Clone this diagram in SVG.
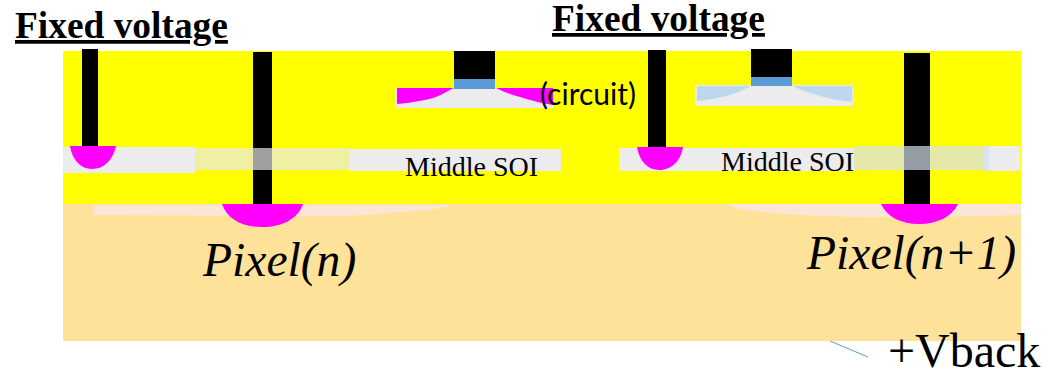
<svg xmlns="http://www.w3.org/2000/svg" width="1042" height="372" viewBox="0 0 1042 372">
<style>
.b{fill:#000}.m{fill:#f0f}.g{fill:#ececec}.bl{fill:#5b9bd5}.lb{fill:#bdd7ee}
text{font-family:"Liberation Serif","Times New Roman",serif;fill:#000}
.h{font-size:37.4px;font-weight:bold;text-decoration:underline}
.s{font-size:28px}
.p{font-size:47.6px;font-style:italic}
</style>
<rect id="substrate" x="63" y="204" width="958" height="137" fill="#ffe299"/>
<rect id="oxide" x="63" y="51" width="958" height="153" fill="#ff0"/>
<g id="pixel-n-implant">
<path d="M94 205H453Q440 210 400 212Q370 215 340 216L94 215Z" fill="#fbe5d6"/>
<path class="m" d="M222 204H303C298 219 282 227 262 227C242 227 227 219 222 204Z"/>
</g>
<g id="pixel-n1-implant">
<path d="M727 204H1021V215Q950 218 880 217Q800 217 745 210Q735 209 727 204Z" fill="#fbe5d6"/>
<path class="m" d="M881 204H958C952 217 937 224 919 224C901 224 887 217 881 204Z"/>
</g>
<g id="left-soi">
<rect class="g" x="63" y="147" width="132" height="26"/>
<rect x="195" y="148" width="156" height="22" fill="#f0f0a4"/>
<rect class="g" x="349" y="149" width="212" height="22"/>
</g>
<g id="right-soi">
<rect class="g" x="619" y="148" width="236" height="23"/>
<rect x="854" y="146" width="130" height="24" fill="#e4e8a8"/>
<rect x="984" y="146" width="5" height="25" fill="#dae3f3"/>
<rect class="g" x="989" y="146" width="31" height="25"/>
</g>
<g id="contact-left"><rect class="b" x="82" y="49" width="16" height="97"/><path class="m" d="M70 146H116C113 160 104 169 92 169C81 169 72 160 70 146Z"/></g>
<g id="contact-pixel-n"><rect class="b" x="253" y="52" width="19" height="152"/><rect x="253" y="148" width="19" height="22" fill="#a0a0a0"/></g>
<g id="contact-right"><rect class="b" x="648" y="50" width="18" height="97"/><path class="m" d="M637 147H683C681 161 671 170 659 170C648 170 639 161 637 147Z"/></g>
<g id="contact-pixel-n1"><rect class="b" x="904" y="53" width="26" height="151"/><rect x="904" y="146" width="26" height="24" fill="#969ca4"/></g>
<g id="circuit-left">
<rect class="g" x="396" y="88" width="157" height="20"/>
<path class="m" d="M397 88H454C445 92 440 97 425 100Q410 103 397 104Z"/>
<path class="m" d="M496 88H553V105Q535 102 520 97Q505 93 496 88Z"/>
<rect class="b" x="454" y="51" width="41" height="28"/>
<rect class="bl" x="454" y="79" width="41" height="10"/>
</g>
<g id="circuit-right">
<rect class="g" x="695" y="85" width="158" height="21"/>
<path class="lb" d="M697 86H751C742 90 737 94 722 97Q708 100 697 101Z"/>
<path class="lb" d="M793 86H852V102Q832 100 817 95Q802 91 793 86Z"/>
<rect class="b" x="751" y="49" width="41" height="28"/>
<rect class="bl" x="751" y="77" width="41" height="9"/>
</g>
<g id="connectors"><line x1="830" y1="341" x2="868" y2="357" stroke="#5b9bd5" stroke-width="1"/></g>
<g id="labels">
<text class="h" x="15" y="38">Fixed voltage</text>
<text class="h" x="552" y="31">Fixed voltage</text>
<text x="540" y="105" style="font-family:Lato,'Noto Sans',sans-serif;font-size:30px">(circuit)</text>
<text class="s" x="405" y="176">Middle SOI</text>
<text class="s" x="721" y="171">Middle SOI</text>
<text class="p" x="203" y="276">Pixel(n)</text>
<text class="p" x="807" y="269">Pixel(n+1)</text>
<text x="888" y="367" style="font-size:48px">+Vback</text>
</g>
</svg>
